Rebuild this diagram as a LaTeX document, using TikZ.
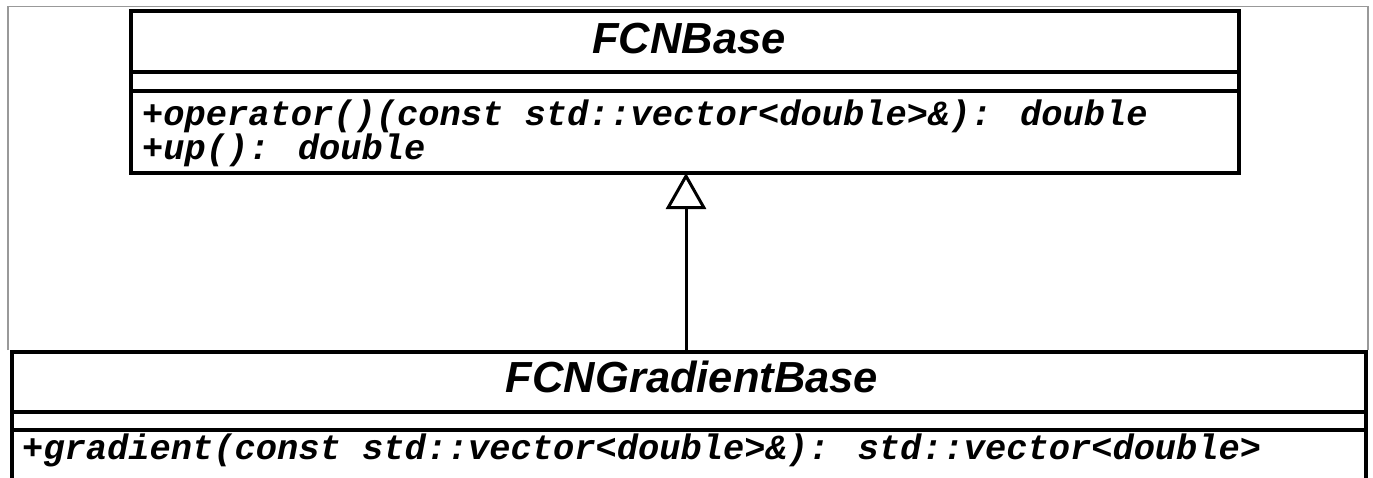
\documentclass[tikz,border=0pt]{standalone}
\usepackage{fontspec}
\setmainfont{Liberation Sans}
\newfontfamily\umlmono{Liberation Mono}
\usetikzlibrary{arrows.meta}
\tikzset{
  classbox/.style={draw=black, line width=4pt, inner sep=0pt, rectangle},
  sepline/.style={draw=black, line width=3.5pt},
  titletext/.style={inner sep=0pt, anchor=base, font=\fontsize{43.5}{43.5}\selectfont\bfseries\itshape},
  membertext/.style={inner sep=0pt, anchor=base west, font=\umlmono\fontsize{35.4}{35.4}\selectfont\bfseries\itshape},
  inherit/.style={draw=black, line width=3pt, -{Triangle[open, width=40pt, length=36pt, line width=3pt]}},
  frameline/.style={draw=black!40, line width=1.2pt}
}
\begin{document}
\begin{tikzpicture}[x=1pt, y=-1pt]
\useasboundingbox (0,0) rectangle (1373,477);
\fill[white] (0,0) rectangle (1373,477);
% outer grey frame
\draw[frameline] (8,350) -- (8,6.5) -- (1368,6.5) -- (1368,350);
% FCNBase
\node[classbox, minimum width=1108pt, minimum height=162pt] (base) at (685,92) {};
\draw[sepline] (base.west |- 0,72) -- (base.east |- 0,72);
\draw[sepline] (base.west |- 0,91) -- (base.east |- 0,91);
\node[titletext] (baseT) at (689,53) {FCNBase};
\node[membertext] (baseM1) at (142,125) {+operator()(const std::vector<double>\&): double};
\node[membertext] (baseM2) at (142,159) {+up(): double};
% FCNGradientBase
\node[classbox, minimum width=1354pt, minimum height=140pt] (grad) at (689,422) {};
\draw[sepline] (grad.west |- 0,412) -- (grad.east |- 0,412);
\draw[sepline] (grad.west |- 0,430) -- (grad.east |- 0,430);
\node[titletext] (gradT) at (692,392) {FCNGradientBase};
\node[membertext] (gradM1) at (22,459) {+gradient(const std::vector<double>\&): std::vector<double>};
% generalization
\coordinate (tipA) at (686,173);
\coordinate (tailA) at (686,352);
\draw[inherit] (tailA) -- (tipA);
\end{tikzpicture}
\end{document}
